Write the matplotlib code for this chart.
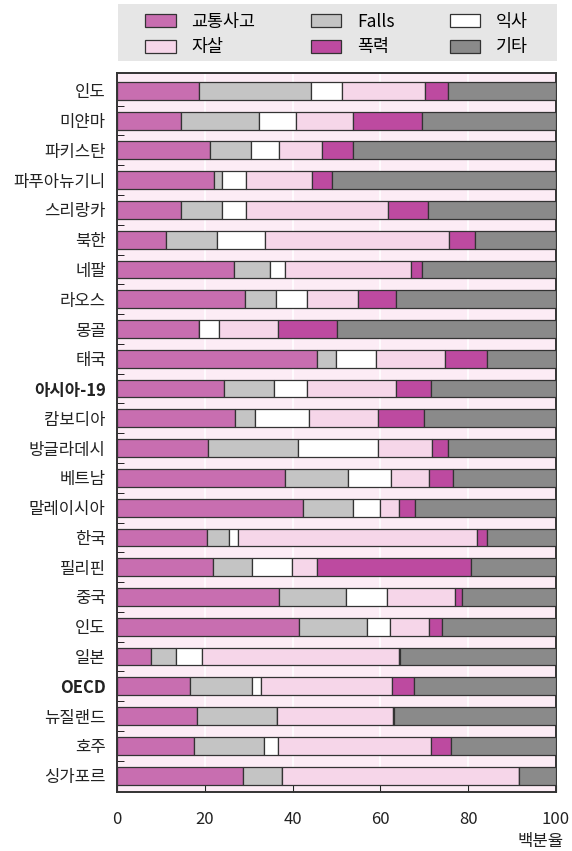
import numpy as np
import matplotlib
matplotlib.use("Agg")
import matplotlib.pyplot as plt
from matplotlib.patches import Patch, Rectangle

plt.rcParams['font.family'] = ['Noto Sans CJK KR', 'DejaVu Sans']

countries = ["인도", "미얀마", "파키스탄", "파푸아뉴기니", "스리랑카", "북한", "네팔", "라오스",
             "몽골", "태국", "아시아-19", "캄보디아", "방글라데시", "베트남", "말레이시아", "한국",
             "필리핀", "중국", "인도", "일본", "OECD", "뉴질랜드", "호주", "싱가포르"]
bold_labels = ["아시아-19", "OECD"]

traffic = [18.6, 14.6, 21.3, 22.1, 14.5, 11.2, 26.7, 29.2, 18.6, 45.6, 24.4, 26.9,
           20.8, 38.3, 42.4, 20.4, 21.8, 37.0, 41.5, 7.7, 16.6, 18.2, 17.6, 28.8]
falls = [25.5, 17.8, 9.2, 1.9, 9.5, 11.5, 8.2, 7.0, 0.0, 4.3, 11.4, 4.5,
         20.5, 14.4, 11.4, 5.2, 9.0, 15.1, 15.4, 5.7, 14.1, 18.2, 16.0, 8.7]
drowning = [7.1, 8.4, 6.5, 5.5, 5.3, 11.1, 3.4, 7.1, 4.6, 9.2, 7.5, 12.3,
            18.2, 9.8, 6.1, 1.9, 9.1, 9.5, 5.4, 6.0, 2.0, 0.0, 3.1, 0.2]
suicide = [19.0, 13.0, 9.6, 15.0, 32.4, 41.8, 28.7, 11.7, 13.5, 15.6, 20.2, 15.7,
           12.3, 8.6, 4.4, 54.6, 5.7, 15.4, 8.7, 44.8, 29.9, 26.4, 34.8, 53.8]
violence = [5.1, 15.6, 7.1, 4.4, 9.1, 5.9, 2.4, 8.6, 13.5, 9.7, 8.0, 10.5,
            3.7, 5.4, 3.6, 2.3, 35.0, 1.7, 3.0, 0.3, 5.1, 0.3, 4.5, 0.0]
other = [24.7, 30.6, 46.3, 51.1, 29.2, 18.5, 30.6, 36.4, 49.8, 15.6, 28.5, 30.1,
         24.5, 23.5, 32.1, 15.6, 19.4, 21.3, 26.0, 35.5, 32.3, 36.9, 24.0, 8.5]

series = ["교통사고", "Falls", "익사", "자살", "폭력", "기타"]
values = [traffic, falls, drowning, suicide, violence, other]
colors = ["#c86eb0", "#c4c4c4", "#ffffff", "#f6d6e9", "#bd4aa0", "#8a8a8a"]

fig = plt.figure(figsize=(5.72, 8.51), dpi=100)
ax = fig.add_axes([0.2045, 0.0693, 0.7675, 0.845])
ax.set_facecolor("#fcecf5")

y = np.arange(len(countries))
left = np.zeros(len(countries))
for name, vals, col in zip(series, values, colors):
    vals = np.array(vals)
    ax.barh(y, vals, left=left, height=0.6, color=col, edgecolor="#333333",
            linewidth=0.9, label=name, zorder=3)
    left += vals

ax.set_xlim(0, 100)
ax.set_ylim(len(countries) - 0.45, -0.6)
ax.set_xticks(np.arange(0, 101, 20))
ax.tick_params(axis="x", direction="in", length=5, labelsize=12, pad=14, colors="#222222")
ax.set_yticks(y)
ax.set_yticklabels(countries, fontsize=12, color="#222222")
ax.tick_params(axis="y", length=0, pad=8)
ax.set_yticks(y[:-1] + 0.5, minor=True)
ax.tick_params(axis="y", which="minor", direction="in", length=5)
for lbl in ax.get_yticklabels():
    if lbl.get_text() in bold_labels:
        lbl.set_fontweight("bold")
ax.grid(axis="x", color="white", linewidth=1.2, zorder=1)
for s in ax.spines.values():
    s.set_color("#333333")
    s.set_linewidth(1.4)

ax.set_xlabel("백분율", fontsize=12, color="#222222", ha="right", va="top")
ax.xaxis.set_label_coords(1.018, -0.057)

# legend box
fig.patches.append(Rectangle((118 / 572, 1 - 61 / 851), 439 / 572, 57 / 851,
                             transform=fig.transFigure, facecolor="#e6e6e6",
                             edgecolor="none", zorder=0))
order = [0, 3, 1, 4, 2, 5]
handles = [Patch(facecolor=colors[i], edgecolor="#333333", linewidth=0.9, label=series[i]) for i in order]
leg = fig.legend(handles=handles, ncol=3, loc="center",
                 bbox_to_anchor=(336.5 / 572, 1 - 34.5 / 851), fontsize=12.5,
                 frameon=False, borderpad=0, borderaxespad=0,
                 handlelength=1.75, handleheight=0.75, labelspacing=0.45,
                 columnspacing=3.2, handletextpad=0.9)

fig.savefig("out.png", dpi=100)
